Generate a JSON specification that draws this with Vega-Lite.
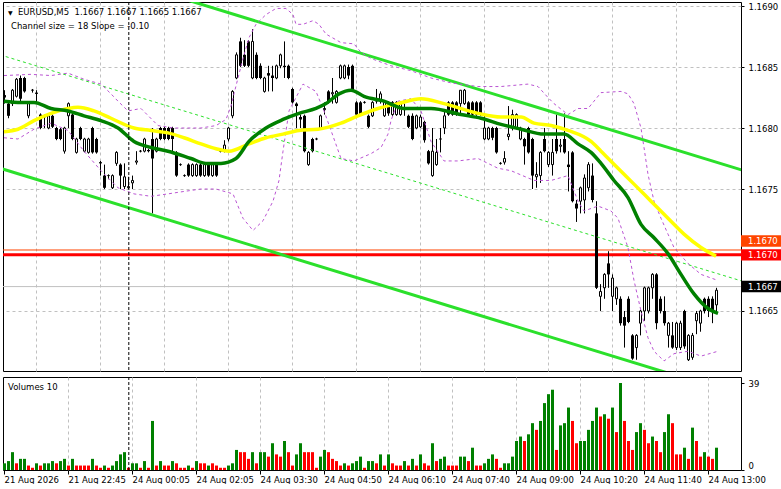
{
"$schema": "https://vega.github.io/schema/vega-lite/v6.json",
"background": "white",
"padding": {"left": -4, "top": 1, "right": 0, "bottom": 0},
"spacing": 4,
"config": {
  "font": "DejaVu Sans",
  "view": {"stroke": "#000000", "strokeWidth": 1},
  "axis": {"labelFont": "DejaVu Sans", "labelFontSize": 8.5, "labelColor": "#000000", "tickColor": "#000000", "gridColor": "#c0c0c0", "gridDash": [3, 3], "gridWidth": 1, "domain": false},
  "text": {"font": "DejaVu Sans", "fontSize": 8.5, "color": "#000000"}
},
"datasets": {
  "bars": [
{"i":0,"o":1.16827,"h":1.16831,"l":1.16820,"c":1.16825,"v":3,"t":"up"},
{"i":1,"o":1.16820,"h":1.16822,"l":1.16808,"c":1.16810,"v":4,"t":"up"},
{"i":2,"o":1.16820,"h":1.16832,"l":1.16818,"c":1.16831,"v":8,"t":"up"},
{"i":3,"o":1.16826,"h":1.16841,"l":1.16825,"c":1.16840,"v":3,"t":"down"},
{"i":4,"o":1.16841,"h":1.16843,"l":1.16822,"c":1.16824,"v":5,"t":"up"},
{"i":5,"o":1.16841,"h":1.16842,"l":1.16829,"c":1.16830,"v":5,"t":"up"},
{"i":6,"o":1.16810,"h":1.16821,"l":1.16808,"c":1.16820,"v":2,"t":"down"},
{"i":7,"o":1.16831,"h":1.16832,"l":1.16829,"c":1.16831,"v":1,"t":"down"},
{"i":8,"o":1.16829,"h":1.16831,"l":1.16820,"c":1.16828,"v":3,"t":"up"},
{"i":9,"o":1.16811,"h":1.16812,"l":1.16799,"c":1.16800,"v":2,"t":"down"},
{"i":10,"o":1.16809,"h":1.16811,"l":1.16800,"c":1.16810,"v":3,"t":"up"},
{"i":11,"o":1.16800,"h":1.16811,"l":1.16799,"c":1.16810,"v":3,"t":"up"},
{"i":12,"o":1.16810,"h":1.16811,"l":1.16800,"c":1.16801,"v":4,"t":"up"},
{"i":13,"o":1.16800,"h":1.16801,"l":1.16790,"c":1.16791,"v":3,"t":"down"},
{"i":14,"o":1.16799,"h":1.16800,"l":1.16790,"c":1.16791,"v":4,"t":"up"},
{"i":15,"o":1.16781,"h":1.16801,"l":1.16779,"c":1.16800,"v":5,"t":"up"},
{"i":16,"o":1.16810,"h":1.16821,"l":1.16800,"c":1.16820,"v":2,"t":"down"},
{"i":17,"o":1.16811,"h":1.16812,"l":1.16790,"c":1.16791,"v":5,"t":"up"},
{"i":18,"o":1.16780,"h":1.16792,"l":1.16779,"c":1.16791,"v":2,"t":"down"},
{"i":19,"o":1.16800,"h":1.16801,"l":1.16790,"c":1.16791,"v":2,"t":"down"},
{"i":20,"o":1.16781,"h":1.16792,"l":1.16780,"c":1.16791,"v":2,"t":"down"},
{"i":21,"o":1.16780,"h":1.16792,"l":1.16779,"c":1.16791,"v":2,"t":"down"},
{"i":22,"o":1.16800,"h":1.16801,"l":1.16779,"c":1.16780,"v":5,"t":"up"},
{"i":23,"o":1.16791,"h":1.16792,"l":1.16779,"c":1.16780,"v":2,"t":"down"},
{"i":24,"o":1.16772,"h":1.16773,"l":1.16761,"c":1.16771,"v":1,"t":"down"},
{"i":25,"o":1.16761,"h":1.16770,"l":1.16750,"c":1.16751,"v":2,"t":"up"},
{"i":26,"o":1.16761,"h":1.16762,"l":1.16758,"c":1.16761,"v":1,"t":"down"},
{"i":27,"o":1.16751,"h":1.16762,"l":1.16750,"c":1.16761,"v":2,"t":"up"},
{"i":28,"o":1.16771,"h":1.16781,"l":1.16769,"c":1.16780,"v":4,"t":"up"},
{"i":29,"o":1.16770,"h":1.16771,"l":1.16750,"c":1.16761,"v":7,"t":"up"},
{"i":30,"o":1.16752,"h":1.16771,"l":1.16750,"c":1.16760,"v":8,"t":"up"},
{"i":31,"o":1.16751,"h":1.16760,"l":1.16750,"c":1.16752,"v":1,"t":"down"},
{"i":32,"o":1.16755,"h":1.16761,"l":1.16750,"c":1.16757,"v":3,"t":"up"},
{"i":33,"o":1.16772,"h":1.16781,"l":1.16770,"c":1.16773,"v":3,"t":"up"},
{"i":34,"o":1.16781,"h":1.16782,"l":1.16780,"c":1.16781,"v":1,"t":"down"},
{"i":35,"o":1.16781,"h":1.16792,"l":1.16780,"c":1.16791,"v":4,"t":"up"},
{"i":36,"o":1.16782,"h":1.16783,"l":1.16780,"c":1.16781,"v":1,"t":"down"},
{"i":37,"o":1.16791,"h":1.16800,"l":1.16730,"c":1.16775,"v":22,"t":"up"},
{"i":38,"o":1.16781,"h":1.16792,"l":1.16780,"c":1.16791,"v":2,"t":"down"},
{"i":39,"o":1.16800,"h":1.16801,"l":1.16790,"c":1.16791,"v":4,"t":"up"},
{"i":40,"o":1.16800,"h":1.16801,"l":1.16790,"c":1.16791,"v":2,"t":"down"},
{"i":41,"o":1.16800,"h":1.16801,"l":1.16790,"c":1.16791,"v":2,"t":"down"},
{"i":42,"o":1.16800,"h":1.16801,"l":1.16780,"c":1.16791,"v":4,"t":"up"},
{"i":43,"o":1.16780,"h":1.16781,"l":1.16760,"c":1.16761,"v":3,"t":"down"},
{"i":44,"o":1.16770,"h":1.16771,"l":1.16769,"c":1.16770,"v":1,"t":"down"},
{"i":45,"o":1.16761,"h":1.16762,"l":1.16760,"c":1.16761,"v":1,"t":"down"},
{"i":46,"o":1.16770,"h":1.16771,"l":1.16760,"c":1.16761,"v":2,"t":"up"},
{"i":47,"o":1.16761,"h":1.16771,"l":1.16760,"c":1.16770,"v":1,"t":"down"},
{"i":48,"o":1.16761,"h":1.16771,"l":1.16760,"c":1.16770,"v":4,"t":"up"},
{"i":49,"o":1.16770,"h":1.16771,"l":1.16760,"c":1.16761,"v":3,"t":"down"},
{"i":50,"o":1.16761,"h":1.16771,"l":1.16760,"c":1.16770,"v":3,"t":"down"},
{"i":51,"o":1.16770,"h":1.16771,"l":1.16760,"c":1.16761,"v":2,"t":"up"},
{"i":52,"o":1.16761,"h":1.16771,"l":1.16760,"c":1.16770,"v":3,"t":"down"},
{"i":53,"o":1.16770,"h":1.16771,"l":1.16760,"c":1.16761,"v":2,"t":"down"},
{"i":54,"o":1.16781,"h":1.16782,"l":1.16780,"c":1.16781,"v":1,"t":"down"},
{"i":55,"o":1.16782,"h":1.16790,"l":1.16780,"c":1.16786,"v":1,"t":"down"},
{"i":56,"o":1.16791,"h":1.16801,"l":1.16789,"c":1.16800,"v":2,"t":"up"},
{"i":57,"o":1.16810,"h":1.16831,"l":1.16808,"c":1.16830,"v":3,"t":"up"},
{"i":58,"o":1.16841,"h":1.16862,"l":1.16840,"c":1.16860,"v":9,"t":"up"},
{"i":59,"o":1.16871,"h":1.16874,"l":1.16850,"c":1.16851,"v":8,"t":"down"},
{"i":60,"o":1.16860,"h":1.16872,"l":1.16850,"c":1.16851,"v":8,"t":"down"},
{"i":61,"o":1.16871,"h":1.16872,"l":1.16850,"c":1.16851,"v":5,"t":"down"},
{"i":62,"o":1.16841,"h":1.16881,"l":1.16840,"c":1.16871,"v":8,"t":"up"},
{"i":63,"o":1.16860,"h":1.16862,"l":1.16840,"c":1.16841,"v":3,"t":"down"},
{"i":64,"o":1.16851,"h":1.16853,"l":1.16840,"c":1.16841,"v":8,"t":"up"},
{"i":65,"o":1.16830,"h":1.16842,"l":1.16829,"c":1.16841,"v":8,"t":"up"},
{"i":66,"o":1.16845,"h":1.16851,"l":1.16830,"c":1.16843,"v":6,"t":"down"},
{"i":67,"o":1.16843,"h":1.16851,"l":1.16830,"c":1.16841,"v":12,"t":"up"},
{"i":68,"o":1.16841,"h":1.16852,"l":1.16840,"c":1.16851,"v":7,"t":"down"},
{"i":69,"o":1.16851,"h":1.16861,"l":1.16849,"c":1.16860,"v":6,"t":"down"},
{"i":70,"o":1.16851,"h":1.16871,"l":1.16841,"c":1.16850,"v":13,"t":"up"},
{"i":71,"o":1.16851,"h":1.16852,"l":1.16840,"c":1.16841,"v":8,"t":"down"},
{"i":72,"o":1.16832,"h":1.16833,"l":1.16820,"c":1.16821,"v":2,"t":"down"},
{"i":73,"o":1.16820,"h":1.16821,"l":1.16800,"c":1.16818,"v":7,"t":"up"},
{"i":74,"o":1.16809,"h":1.16811,"l":1.16800,"c":1.16807,"v":12,"t":"up"},
{"i":75,"o":1.16810,"h":1.16811,"l":1.16780,"c":1.16781,"v":8,"t":"down"},
{"i":76,"o":1.16770,"h":1.16781,"l":1.16769,"c":1.16780,"v":8,"t":"down"},
{"i":77,"o":1.16791,"h":1.16792,"l":1.16780,"c":1.16781,"v":8,"t":"down"},
{"i":78,"o":1.16791,"h":1.16792,"l":1.16790,"c":1.16791,"v":1,"t":"down"},
{"i":79,"o":1.16800,"h":1.16811,"l":1.16799,"c":1.16810,"v":6,"t":"up"},
{"i":80,"o":1.16815,"h":1.16821,"l":1.16811,"c":1.16816,"v":9,"t":"up"},
{"i":81,"o":1.16830,"h":1.16831,"l":1.16820,"c":1.16821,"v":8,"t":"down"},
{"i":82,"o":1.16828,"h":1.16841,"l":1.16820,"c":1.16829,"v":5,"t":"down"},
{"i":83,"o":1.16821,"h":1.16831,"l":1.16820,"c":1.16830,"v":4,"t":"down"},
{"i":84,"o":1.16841,"h":1.16852,"l":1.16840,"c":1.16851,"v":2,"t":"down"},
{"i":85,"o":1.16841,"h":1.16852,"l":1.16840,"c":1.16851,"v":3,"t":"up"},
{"i":86,"o":1.16850,"h":1.16852,"l":1.16840,"c":1.16843,"v":2,"t":"down"},
{"i":87,"o":1.16851,"h":1.16852,"l":1.16830,"c":1.16831,"v":3,"t":"up"},
{"i":88,"o":1.16821,"h":1.16822,"l":1.16810,"c":1.16811,"v":4,"t":"up"},
{"i":89,"o":1.16821,"h":1.16822,"l":1.16810,"c":1.16811,"v":6,"t":"up"},
{"i":90,"o":1.16821,"h":1.16822,"l":1.16820,"c":1.16821,"v":1,"t":"down"},
{"i":91,"o":1.16810,"h":1.16811,"l":1.16800,"c":1.16801,"v":4,"t":"up"},
{"i":92,"o":1.16810,"h":1.16822,"l":1.16809,"c":1.16821,"v":4,"t":"up"},
{"i":93,"o":1.16822,"h":1.16832,"l":1.16820,"c":1.16824,"v":3,"t":"down"},
{"i":94,"o":1.16822,"h":1.16830,"l":1.16820,"c":1.16828,"v":7,"t":"up"},
{"i":95,"o":1.16810,"h":1.16822,"l":1.16809,"c":1.16821,"v":2,"t":"down"},
{"i":96,"o":1.16821,"h":1.16822,"l":1.16810,"c":1.16812,"v":7,"t":"up"},
{"i":97,"o":1.16811,"h":1.16822,"l":1.16810,"c":1.16821,"v":3,"t":"down"},
{"i":98,"o":1.16811,"h":1.16822,"l":1.16810,"c":1.16821,"v":2,"t":"down"},
{"i":99,"o":1.16811,"h":1.16822,"l":1.16810,"c":1.16821,"v":2,"t":"down"},
{"i":100,"o":1.16815,"h":1.16820,"l":1.16810,"c":1.16816,"v":4,"t":"up"},
{"i":101,"o":1.16810,"h":1.16811,"l":1.16800,"c":1.16801,"v":2,"t":"down"},
{"i":102,"o":1.16810,"h":1.16812,"l":1.16790,"c":1.16791,"v":5,"t":"up"},
{"i":103,"o":1.16800,"h":1.16811,"l":1.16799,"c":1.16810,"v":2,"t":"down"},
{"i":104,"o":1.16801,"h":1.16811,"l":1.16800,"c":1.16809,"v":7,"t":"up"},
{"i":105,"o":1.16805,"h":1.16806,"l":1.16788,"c":1.16790,"v":3,"t":"down"},
{"i":106,"o":1.16781,"h":1.16782,"l":1.16770,"c":1.16771,"v":2,"t":"down"},
{"i":107,"o":1.16761,"h":1.16800,"l":1.16760,"c":1.16781,"v":12,"t":"up"},
{"i":108,"o":1.16770,"h":1.16791,"l":1.16769,"c":1.16780,"v":4,"t":"down"},
{"i":109,"o":1.16791,"h":1.16800,"l":1.16780,"c":1.16791,"v":5,"t":"up"},
{"i":110,"o":1.16800,"h":1.16815,"l":1.16795,"c":1.16810,"v":6,"t":"up"},
{"i":111,"o":1.16821,"h":1.16822,"l":1.16810,"c":1.16811,"v":2,"t":"down"},
{"i":112,"o":1.16821,"h":1.16822,"l":1.16810,"c":1.16811,"v":2,"t":"down"},
{"i":113,"o":1.16821,"h":1.16822,"l":1.16810,"c":1.16811,"v":2,"t":"down"},
{"i":114,"o":1.16820,"h":1.16831,"l":1.16810,"c":1.16831,"v":6,"t":"up"},
{"i":115,"o":1.16820,"h":1.16832,"l":1.16819,"c":1.16831,"v":6,"t":"up"},
{"i":116,"o":1.16821,"h":1.16822,"l":1.16810,"c":1.16811,"v":4,"t":"down"},
{"i":117,"o":1.16821,"h":1.16822,"l":1.16810,"c":1.16811,"v":10,"t":"up"},
{"i":118,"o":1.16821,"h":1.16822,"l":1.16810,"c":1.16811,"v":2,"t":"down"},
{"i":119,"o":1.16821,"h":1.16822,"l":1.16810,"c":1.16811,"v":2,"t":"down"},
{"i":120,"o":1.16791,"h":1.16810,"l":1.16790,"c":1.16800,"v":3,"t":"up"},
{"i":121,"o":1.16791,"h":1.16801,"l":1.16790,"c":1.16800,"v":5,"t":"up"},
{"i":122,"o":1.16800,"h":1.16801,"l":1.16790,"c":1.16792,"v":7,"t":"up"},
{"i":123,"o":1.16800,"h":1.16801,"l":1.16779,"c":1.16780,"v":5,"t":"down"},
{"i":124,"o":1.16771,"h":1.16772,"l":1.16770,"c":1.16771,"v":1,"t":"down"},
{"i":125,"o":1.16772,"h":1.16781,"l":1.16770,"c":1.16775,"v":3,"t":"up"},
{"i":126,"o":1.16793,"h":1.16818,"l":1.16790,"c":1.16795,"v":3,"t":"up"},
{"i":127,"o":1.16800,"h":1.16815,"l":1.16798,"c":1.16811,"v":6,"t":"up"},
{"i":128,"o":1.16800,"h":1.16812,"l":1.16799,"c":1.16811,"v":13,"t":"up"},
{"i":129,"o":1.16791,"h":1.16801,"l":1.16790,"c":1.16800,"v":15,"t":"up"},
{"i":130,"o":1.16791,"h":1.16792,"l":1.16770,"c":1.16785,"v":13,"t":"down"},
{"i":131,"o":1.16800,"h":1.16801,"l":1.16779,"c":1.16780,"v":16,"t":"up"},
{"i":132,"o":1.16791,"h":1.16792,"l":1.16750,"c":1.16761,"v":21,"t":"up"},
{"i":133,"o":1.16760,"h":1.16772,"l":1.16751,"c":1.16762,"v":18,"t":"down"},
{"i":134,"o":1.16761,"h":1.16781,"l":1.16755,"c":1.16780,"v":22,"t":"up"},
{"i":135,"o":1.16791,"h":1.16800,"l":1.16780,"c":1.16781,"v":30,"t":"up"},
{"i":136,"o":1.16770,"h":1.16781,"l":1.16768,"c":1.16780,"v":34,"t":"up"},
{"i":137,"o":1.16770,"h":1.16791,"l":1.16761,"c":1.16780,"v":36,"t":"up"},
{"i":138,"o":1.16791,"h":1.16811,"l":1.16779,"c":1.16781,"v":9,"t":"down"},
{"i":139,"o":1.16785,"h":1.16791,"l":1.16780,"c":1.16786,"v":20,"t":"up"},
{"i":140,"o":1.16791,"h":1.16812,"l":1.16779,"c":1.16780,"v":21,"t":"up"},
{"i":141,"o":1.16770,"h":1.16781,"l":1.16748,"c":1.16768,"v":28,"t":"up"},
{"i":142,"o":1.16780,"h":1.16781,"l":1.16739,"c":1.16740,"v":22,"t":"down"},
{"i":143,"o":1.16738,"h":1.16741,"l":1.16723,"c":1.16734,"v":12,"t":"down"},
{"i":144,"o":1.16740,"h":1.16752,"l":1.16730,"c":1.16751,"v":13,"t":"up"},
{"i":145,"o":1.16741,"h":1.16762,"l":1.16730,"c":1.16759,"v":13,"t":"up"},
{"i":146,"o":1.16751,"h":1.16772,"l":1.16748,"c":1.16770,"v":18,"t":"up"},
{"i":147,"o":1.16761,"h":1.16771,"l":1.16739,"c":1.16741,"v":22,"t":"up"},
{"i":148,"o":1.16730,"h":1.16740,"l":1.16668,"c":1.16669,"v":28,"t":"up"},
{"i":149,"o":1.16662,"h":1.16672,"l":1.16650,"c":1.16666,"v":24,"t":"down"},
{"i":150,"o":1.16669,"h":1.16681,"l":1.16660,"c":1.16680,"v":25,"t":"up"},
{"i":151,"o":1.16689,"h":1.16699,"l":1.16669,"c":1.16680,"v":23,"t":"down"},
{"i":152,"o":1.16662,"h":1.16680,"l":1.16650,"c":1.16677,"v":28,"t":"up"},
{"i":153,"o":1.16660,"h":1.16670,"l":1.16655,"c":1.16669,"v":17,"t":"down"},
{"i":154,"o":1.16660,"h":1.16662,"l":1.16638,"c":1.16640,"v":39,"t":"up"},
{"i":155,"o":1.16645,"h":1.16650,"l":1.16620,"c":1.16638,"v":22,"t":"down"},
{"i":156,"o":1.16660,"h":1.16662,"l":1.16640,"c":1.16641,"v":13,"t":"down"},
{"i":157,"o":1.16630,"h":1.16631,"l":1.16610,"c":1.16611,"v":9,"t":"down"},
{"i":158,"o":1.16620,"h":1.16631,"l":1.16610,"c":1.16630,"v":17,"t":"up"},
{"i":159,"o":1.16640,"h":1.16651,"l":1.16630,"c":1.16650,"v":21,"t":"up"},
{"i":160,"o":1.16650,"h":1.16670,"l":1.16642,"c":1.16669,"v":18,"t":"down"},
{"i":161,"o":1.16650,"h":1.16670,"l":1.16648,"c":1.16669,"v":12,"t":"down"},
{"i":162,"o":1.16669,"h":1.16681,"l":1.16660,"c":1.16680,"v":15,"t":"up"},
{"i":163,"o":1.16680,"h":1.16681,"l":1.16635,"c":1.16640,"v":13,"t":"down"},
{"i":164,"o":1.16660,"h":1.16662,"l":1.16648,"c":1.16650,"v":8,"t":"down"},
{"i":165,"o":1.16650,"h":1.16662,"l":1.16638,"c":1.16640,"v":17,"t":"up"},
{"i":166,"o":1.16630,"h":1.16641,"l":1.16620,"c":1.16640,"v":25,"t":"up"},
{"i":167,"o":1.16630,"h":1.16641,"l":1.16619,"c":1.16620,"v":21,"t":"down"},
{"i":168,"o":1.16620,"h":1.16641,"l":1.16618,"c":1.16640,"v":7,"t":"down"},
{"i":169,"o":1.16620,"h":1.16642,"l":1.16618,"c":1.16640,"v":7,"t":"down"},
{"i":170,"o":1.16650,"h":1.16651,"l":1.16619,"c":1.16621,"v":10,"t":"up"},
{"i":171,"o":1.16610,"h":1.16631,"l":1.16609,"c":1.16630,"v":5,"t":"down"},
{"i":172,"o":1.16612,"h":1.16632,"l":1.16610,"c":1.16630,"v":19,"t":"up"},
{"i":173,"o":1.16642,"h":1.16650,"l":1.16631,"c":1.16648,"v":13,"t":"down"},
{"i":174,"o":1.16640,"h":1.16651,"l":1.16633,"c":1.16650,"v":6,"t":"down"},
{"i":175,"o":1.16660,"h":1.16661,"l":1.16648,"c":1.16650,"v":8,"t":"up"},
{"i":176,"o":1.16660,"h":1.16662,"l":1.16645,"c":1.16650,"v":6,"t":"down"},
{"i":177,"o":1.16660,"h":1.16662,"l":1.16640,"c":1.16650,"v":5,"t":"down"},
{"i":178,"o":1.16655,"h":1.16669,"l":1.16648,"c":1.16667,"v":10,"t":"up"}
  ],
  "ma": [
{"s":"g","i":0,"p":1.16822},{"s":"g","i":4.25,"p":1.16821},{"s":"g","i":7.5,"p":1.16821},{"s":"g","i":11.75,"p":1.16816},{"s":"g","i":16,"p":1.16814},{"s":"g","i":20,"p":1.16810},{"s":"g","i":24.25,"p":1.16806},{"s":"g","i":28.5,"p":1.16800},{"s":"g","i":32.5,"p":1.16789},{"s":"g","i":36.75,"p":1.16784},{"s":"g","i":41,"p":1.16781},{"s":"g","i":46.75,"p":1.16775},{"s":"g","i":50.5,"p":1.16771},{"s":"g","i":54.25,"p":1.16771},{"s":"g","i":58,"p":1.16775},{"s":"g","i":61.25,"p":1.16789},{"s":"g","i":65.5,"p":1.16800},{"s":"g","i":69.75,"p":1.16807},{"s":"g","i":73.75,"p":1.16812},{"s":"g","i":78,"p":1.16816},{"s":"g","i":80.5,"p":1.16820},{"s":"g","i":83.75,"p":1.16828},{"s":"g","i":86.75,"p":1.16831},{"s":"g","i":90,"p":1.16826},{"s":"g","i":95,"p":1.16822},{"s":"g","i":100,"p":1.16816},{"s":"g","i":106.75,"p":1.16816},{"s":"g","i":114.25,"p":1.16811},{"s":"g","i":119.25,"p":1.16808},{"s":"g","i":124.25,"p":1.16803},{"s":"g","i":129.25,"p":1.16799},{"s":"g","i":135,"p":1.16795},{"s":"g","i":140,"p":1.16795},{"s":"g","i":143.5,"p":1.16787},{"s":"g","i":146.75,"p":1.16780},{"s":"g","i":149.25,"p":1.16771},{"s":"g","i":152.5,"p":1.16757},{"s":"g","i":156,"p":1.16743},{"s":"g","i":159.25,"p":1.16721},{"s":"g","i":162.5,"p":1.16710},{"s":"g","i":166,"p":1.16697},{"s":"g","i":169.25,"p":1.16680},{"s":"g","i":172.5,"p":1.16664},{"s":"g","i":176,"p":1.16652},{"s":"g","i":178.5,"p":1.16648},
{"s":"y","i":0,"p":1.16797},{"s":"y","i":3.5,"p":1.16799},{"s":"y","i":7.5,"p":1.16806},{"s":"y","i":11.75,"p":1.16812},{"s":"y","i":16,"p":1.16816},{"s":"y","i":18.5,"p":1.16817},{"s":"y","i":22.5,"p":1.16814},{"s":"y","i":26.75,"p":1.16808},{"s":"y","i":32.5,"p":1.16800},{"s":"y","i":36.75,"p":1.16798},{"s":"y","i":41,"p":1.16796},{"s":"y","i":45,"p":1.16792},{"s":"y","i":49.25,"p":1.16787},{"s":"y","i":53,"p":1.16783},{"s":"y","i":56.25,"p":1.16781},{"s":"y","i":61.25,"p":1.16787},{"s":"y","i":65.5,"p":1.16792},{"s":"y","i":69.75,"p":1.16795},{"s":"y","i":73.75,"p":1.16798},{"s":"y","i":78.5,"p":1.16799},{"s":"y","i":84.25,"p":1.16804},{"s":"y","i":88.5,"p":1.16810},{"s":"y","i":93.5,"p":1.16816},{"s":"y","i":98.5,"p":1.16820},{"s":"y","i":104.25,"p":1.16824},{"s":"y","i":110,"p":1.16820},{"s":"y","i":118.5,"p":1.16812},{"s":"y","i":124.25,"p":1.16809},{"s":"y","i":129.25,"p":1.16809},{"s":"y","i":132.5,"p":1.16804},{"s":"y","i":136.75,"p":1.16802},{"s":"y","i":141,"p":1.16798},{"s":"y","i":146.75,"p":1.16789},{"s":"y","i":149.25,"p":1.16781},{"s":"y","i":153.5,"p":1.16767},{"s":"y","i":157.5,"p":1.16754},{"s":"y","i":161.75,"p":1.16740},{"s":"y","i":166,"p":1.16726},{"s":"y","i":170,"p":1.16713},{"s":"y","i":174.25,"p":1.16702},{"s":"y","i":178,"p":1.16695}
  ],
  "band": [
{"s":"U","i":0,"p":1.16843},{"s":"U","i":6.75,"p":1.16844},{"s":"U","i":11.75,"p":1.16843},{"s":"U","i":16,"p":1.16845},{"s":"U","i":20,"p":1.16840},{"s":"U","i":24.25,"p":1.16836},{"s":"U","i":26.75,"p":1.16828},{"s":"U","i":28.5,"p":1.16822},{"s":"U","i":31,"p":1.16814},{"s":"U","i":34.25,"p":1.16816},{"s":"U","i":38.5,"p":1.16802},{"s":"U","i":42.5,"p":1.16800},{"s":"U","i":49.25,"p":1.16800},{"s":"U","i":53,"p":1.16802},{"s":"U","i":55.5,"p":1.16807},{"s":"U","i":56.75,"p":1.16818},{"s":"U","i":57.5,"p":1.16828},{"s":"U","i":58.5,"p":1.16841},{"s":"U","i":59.75,"p":1.16857},{"s":"U","i":61.25,"p":1.16874},{"s":"U","i":63,"p":1.16885},{"s":"U","i":65.5,"p":1.16893},{"s":"U","i":68,"p":1.16898},{"s":"U","i":70.5,"p":1.16898},{"s":"U","i":72.25,"p":1.16893},{"s":"U","i":73,"p":1.16885},{"s":"U","i":74.75,"p":1.16885},{"s":"U","i":77.25,"p":1.16888},{"s":"U","i":78.75,"p":1.16885},{"s":"U","i":80.5,"p":1.16877},{"s":"U","i":84.25,"p":1.16870},{"s":"U","i":87.5,"p":1.16869},{"s":"U","i":89.25,"p":1.16862},{"s":"U","i":91.75,"p":1.16857},{"s":"U","i":96.75,"p":1.16851},{"s":"U","i":101.75,"p":1.16847},{"s":"U","i":106.75,"p":1.16841},{"s":"U","i":111.75,"p":1.16837},{"s":"U","i":118.5,"p":1.16834},{"s":"U","i":124.25,"p":1.16834},{"s":"U","i":131,"p":1.16836},{"s":"U","i":133.5,"p":1.16834},{"s":"U","i":136,"p":1.16825},{"s":"U","i":137.5,"p":1.16820},{"s":"U","i":141,"p":1.16811},{"s":"U","i":143.5,"p":1.16816},{"s":"U","i":146,"p":1.16816},{"s":"U","i":147.5,"p":1.16822},{"s":"U","i":149.25,"p":1.16829},{"s":"U","i":154.25,"p":1.16830},{"s":"U","i":156,"p":1.16828},{"s":"U","i":157.5,"p":1.16820},{"s":"U","i":159.25,"p":1.16800},{"s":"U","i":160,"p":1.16784},{"s":"U","i":161,"p":1.16762},{"s":"U","i":162.5,"p":1.16740},{"s":"U","i":164.25,"p":1.16726},{"s":"U","i":166,"p":1.16713},{"s":"U","i":167.5,"p":1.16702},{"s":"U","i":171,"p":1.16689},{"s":"U","i":174.25,"p":1.16680},{"s":"U","i":178.5,"p":1.16675},
{"s":"L","i":0,"p":1.16792},{"s":"L","i":3.5,"p":1.16791},{"s":"L","i":7.5,"p":1.16799},{"s":"L","i":11.75,"p":1.16804},{"s":"L","i":16,"p":1.16798},{"s":"L","i":20,"p":1.16781},{"s":"L","i":24.25,"p":1.16765},{"s":"L","i":28.5,"p":1.16751},{"s":"L","i":32.5,"p":1.16746},{"s":"L","i":36.75,"p":1.16744},{"s":"L","i":41,"p":1.16746},{"s":"L","i":45,"p":1.16748},{"s":"L","i":49.25,"p":1.16750},{"s":"L","i":53,"p":1.16750},{"s":"L","i":57.25,"p":1.16746},{"s":"L","i":59.75,"p":1.16726},{"s":"L","i":62.25,"p":1.16716},{"s":"L","i":64.75,"p":1.16724},{"s":"L","i":67.25,"p":1.16740},{"s":"L","i":68.75,"p":1.16757},{"s":"L","i":69.75,"p":1.16781},{"s":"L","i":71.25,"p":1.16814},{"s":"L","i":74.75,"p":1.16836},{"s":"L","i":78,"p":1.16830},{"s":"L","i":80,"p":1.16814},{"s":"L","i":81.75,"p":1.16798},{"s":"L","i":84.25,"p":1.16775},{"s":"L","i":87.5,"p":1.16773},{"s":"L","i":91.75,"p":1.16779},{"s":"L","i":94.25,"p":1.16784},{"s":"L","i":96,"p":1.16795},{"s":"L","i":96.75,"p":1.16806},{"s":"L","i":98.5,"p":1.16822},{"s":"L","i":101.75,"p":1.16824},{"s":"L","i":104.25,"p":1.16814},{"s":"L","i":106.75,"p":1.16789},{"s":"L","i":110,"p":1.16773},{"s":"L","i":113.5,"p":1.16773},{"s":"L","i":118.5,"p":1.16775},{"s":"L","i":123.5,"p":1.16767},{"s":"L","i":126.75,"p":1.16765},{"s":"L","i":132.5,"p":1.16757},{"s":"L","i":136.75,"p":1.16757},{"s":"L","i":141,"p":1.16761},{"s":"L","i":143.5,"p":1.16740},{"s":"L","i":145,"p":1.16732},{"s":"L","i":148.5,"p":1.16736},{"s":"L","i":151.75,"p":1.16732},{"s":"L","i":153.5,"p":1.16726},{"s":"L","i":156,"p":1.16702},{"s":"L","i":157.5,"p":1.16675},{"s":"L","i":159.25,"p":1.16650},{"s":"L","i":161,"p":1.16628},{"s":"L","i":162.5,"p":1.16617},{"s":"L","i":165,"p":1.16609},{"s":"L","i":167.5,"p":1.16615},{"s":"L","i":171,"p":1.16617},{"s":"L","i":174.25,"p":1.16613},{"s":"L","i":178.5,"p":1.16617}
  ],
  "chan": [
{"s":"up","i":-1,"p":1.16952},{"s":"up","i":185,"p":1.16765},
{"s":"mid","i":-1,"p":1.16860},{"s":"mid","i":185,"p":1.16674},
{"s":"lo","i":-1,"p":1.16767},{"s":"lo","i":185,"p":1.16580}
  ],
  "levels": [
{"k":"a","p":1.16700,"txt":"1.1670"},
{"k":"b","p":1.16696,"txt":"1.1670"},
{"k":"bid","p":1.16670,"txt":"1.1667"}
  ],
  "sep": [{"i":31.2}]
},
"vconcat": [
{
  "width": 738,
  "height": 369,
  "layer": [
    {
      "data": {"name": "levels"},
      "transform": [{"filter": "datum.k == 'bid'"}],
      "mark": {"type": "rule", "color": "#c0c0c0", "strokeWidth": 1},
      "encoding": {
        "y": {"field": "p", "type": "quantitative", "title": null,
              "scale": {"domain": [1.166008, 1.169033], "nice": false, "zero": false},
              "axis": {"orient": "right", "values": [1.1665, 1.1675, 1.168, 1.1685, 1.169], "format": ".4f", "grid": true, "tickSize": 3, "labelPadding": 4, "labelFlush": false, "labelOverlap": false, "domain": false, "zindex": 0}}
      }
    },
    {
      "data": {"name": "levels"},
      "transform": [{"filter": "datum.k == 'a'"}],
      "mark": {"type": "rule", "color": "#ff4500", "strokeWidth": 1},
      "encoding": {"y": {"field": "p", "type": "quantitative", "title": null, "scale": {"domain": [1.166008, 1.169033], "nice": false, "zero": false}}}
    },
    {
      "data": {"name": "levels"},
      "transform": [{"filter": "datum.k == 'b'"}],
      "mark": {"type": "rule", "color": "#ff0000", "strokeWidth": 3},
      "encoding": {"y": {"field": "p", "type": "quantitative", "title": null, "scale": {"domain": [1.166008, 1.169033], "nice": false, "zero": false}}}
    },
    {
      "data": {"name": "bars"},
      "mark": {"type": "rule", "color": "#000000", "strokeWidth": 1, "xOffset": 0.5},
      "encoding": {
        "x": {"field": "i", "type": "quantitative", "title": null,
              "scale": {"domain": [-0.25, 184.25], "nice": false, "zero": false, "padding": 0},
              "axis": {"orient": "bottom", "values": [8,16,24,32,40,48,56,64,72,80,88,96,104,112,120,128,136,144,152,160,168,176], "grid": true, "labels": false, "ticks": false, "domain": false, "zindex": 0}},
        "y": {"field": "l", "type": "quantitative", "title": null, "scale": {"domain": [1.166008, 1.169033], "nice": false, "zero": false}},
        "y2": {"field": "h"}
      }
    },
    {
      "data": {"name": "bars"},
      "transform": [{"filter": "datum.c < datum.o"}],
      "mark": {"type": "bar", "width": 3, "color": "#000000", "xOffset": 0.5},
      "encoding": {
        "x": {"field": "i", "type": "quantitative", "title": null, "scale": {"domain": [-0.25, 184.25], "nice": false, "zero": false, "padding": 0}},
        "y": {"field": "o", "type": "quantitative", "title": null, "scale": {"domain": [1.166008, 1.169033], "nice": false, "zero": false}},
        "y2": {"field": "c"}
      }
    },
    {
      "data": {"name": "bars"},
      "transform": [{"filter": "datum.c >= datum.o"}],
      "mark": {"type": "bar", "width": 2, "fill": "#ffffff", "stroke": "#000000", "strokeWidth": 1, "xOffset": 0.5},
      "encoding": {
        "x": {"field": "i", "type": "quantitative", "title": null, "scale": {"domain": [-0.25, 184.25], "nice": false, "zero": false, "padding": 0}},
        "y": {"field": "o", "type": "quantitative", "title": null, "scale": {"domain": [1.166008, 1.169033], "nice": false, "zero": false}},
        "y2": {"field": "c"}
      }
    },
    {
      "data": {"name": "chan"},
      "transform": [{"filter": "datum.s != 'mid'"}],
      "mark": {"type": "line", "color": "#2be02b", "strokeWidth": 3, "clip": true},
      "encoding": {
        "x": {"field": "i", "type": "quantitative", "title": null, "scale": {"domain": [-0.25, 184.25], "nice": false, "zero": false, "padding": 0}},
        "y": {"field": "p", "type": "quantitative", "title": null, "scale": {"domain": [1.166008, 1.169033], "nice": false, "zero": false}},
        "detail": {"field": "s"}
      }
    },
    {
      "data": {"name": "chan"},
      "transform": [{"filter": "datum.s == 'mid'"}],
      "mark": {"type": "line", "color": "#2be02b", "strokeWidth": 1, "strokeDash": [3, 3], "clip": true},
      "encoding": {
        "x": {"field": "i", "type": "quantitative", "title": null, "scale": {"domain": [-0.25, 184.25], "nice": false, "zero": false, "padding": 0}},
        "y": {"field": "p", "type": "quantitative", "title": null, "scale": {"domain": [1.166008, 1.169033], "nice": false, "zero": false}}
      }
    },
    {
      "data": {"name": "band"},
      "mark": {"type": "line", "color": "#ba55d3", "strokeWidth": 1, "strokeDash": [3, 3], "clip": true},
      "encoding": {
        "x": {"field": "i", "type": "quantitative", "title": null, "scale": {"domain": [-0.25, 184.25], "nice": false, "zero": false, "padding": 0}},
        "y": {"field": "p", "type": "quantitative", "title": null, "scale": {"domain": [1.166008, 1.169033], "nice": false, "zero": false}},
        "detail": {"field": "s"}
      }
    },
    {
      "data": {"name": "ma"},
      "transform": [{"filter": "datum.s == 'y'"}],
      "mark": {"type": "line", "color": "#ffff00", "strokeWidth": 3.5, "interpolate": "monotone"},
      "encoding": {
        "x": {"field": "i", "type": "quantitative", "title": null, "scale": {"domain": [-0.25, 184.25], "nice": false, "zero": false, "padding": 0}},
        "y": {"field": "p", "type": "quantitative", "title": null, "scale": {"domain": [1.166008, 1.169033], "nice": false, "zero": false}}
      }
    },
    {
      "data": {"name": "ma"},
      "transform": [{"filter": "datum.s == 'g'"}],
      "mark": {"type": "line", "color": "#008000", "strokeWidth": 3.5, "interpolate": "monotone"},
      "encoding": {
        "x": {"field": "i", "type": "quantitative", "title": null, "scale": {"domain": [-0.25, 184.25], "nice": false, "zero": false, "padding": 0}},
        "y": {"field": "p", "type": "quantitative", "title": null, "scale": {"domain": [1.166008, 1.169033], "nice": false, "zero": false}}
      }
    },
    {
      "data": {"name": "sep"},
      "mark": {"type": "rule", "color": "#000000", "strokeWidth": 1, "strokeDash": [3, 2]},
      "encoding": {
        "x": {"field": "i", "type": "quantitative", "title": null, "scale": {"domain": [-0.25, 184.25], "nice": false, "zero": false, "padding": 0}}
      }
    },
    {
      "data": {"values": [{"txt": "▼"}]},
      "mark": {"type": "text", "align": "left", "baseline": "alphabetic", "dx": 5, "dy": 13, "fontSize": 6, "color": "#000000"},
      "encoding": {
        "x": {"datum": -0.25, "type": "quantitative"},
        "y": {"datum": 1.169033, "type": "quantitative"},
        "text": {"field": "txt"}
      }
    },
    {
      "data": {"values": [{"txt": "EURUSD,M5\u00a0 1.1667 1.1667 1.1665 1.1667"}]},
      "mark": {"type": "text", "align": "left", "baseline": "alphabetic", "dx": 15, "dy": 13, "fontSize": 8.5, "color": "#000000"},
      "encoding": {
        "x": {"datum": -0.25, "type": "quantitative"},
        "y": {"datum": 1.169033, "type": "quantitative"},
        "text": {"field": "txt"}
      }
    },
    {
      "data": {"values": [{"txt": "Channel size = 18 Slope = -0.10"}]},
      "mark": {"type": "text", "align": "left", "baseline": "alphabetic", "dx": 8, "dy": 27, "fontSize": 8.5, "color": "#000000"},
      "encoding": {
        "x": {"datum": -0.25, "type": "quantitative"},
        "y": {"datum": 1.169033, "type": "quantitative"},
        "text": {"field": "txt"}
      }
    },
    {
      "data": {"name": "levels"},
      "transform": [{"filter": "datum.k == 'a'"}],
      "mark": {"type": "point", "shape": "M0,-0.28L2,-0.28L2,0.28L0,0.28Z", "size": 1681, "filled": true, "opacity": 1, "color": "#ff4500", "strokeWidth": 0, "yOffset": -9},
      "encoding": {
        "x": {"datum": 184.25, "type": "quantitative"},
        "y": {"field": "p", "type": "quantitative", "title": null, "scale": {"domain": [1.166008, 1.169033], "nice": false, "zero": false}}
      }
    },
    {
      "data": {"name": "levels"},
      "transform": [{"filter": "datum.k == 'a'"}],
      "mark": {"type": "text", "align": "left", "baseline": "middle", "dx": 7, "dy": -9, "fontSize": 8.5, "color": "#ffffff"},
      "encoding": {
        "x": {"datum": 184.25, "type": "quantitative"},
        "y": {"field": "p", "type": "quantitative", "title": null, "scale": {"domain": [1.166008, 1.169033], "nice": false, "zero": false}},
        "text": {"field": "txt"}
      }
    },
    {
      "data": {"name": "levels"},
      "transform": [{"filter": "datum.k != 'a'"}],
      "mark": {"type": "point", "shape": "M0,-0.28L2,-0.28L2,0.28L0,0.28Z", "size": 1681, "filled": true, "opacity": 1, "strokeWidth": 0},
      "encoding": {
        "x": {"datum": 184.25, "type": "quantitative"},
        "y": {"field": "p", "type": "quantitative", "title": null, "scale": {"domain": [1.166008, 1.169033], "nice": false, "zero": false}},
        "color": {"condition": {"test": "datum.k == 'b'", "value": "#ff0000"}, "value": "#000000"}
      }
    },
    {
      "data": {"name": "levels"},
      "transform": [{"filter": "datum.k != 'a'"}],
      "mark": {"type": "text", "align": "left", "baseline": "middle", "dx": 7, "dy": 0.5, "fontSize": 8.5, "color": "#ffffff"},
      "encoding": {
        "x": {"datum": 184.25, "type": "quantitative"},
        "y": {"field": "p", "type": "quantitative", "title": null, "scale": {"domain": [1.166008, 1.169033], "nice": false, "zero": false}},
        "text": {"field": "txt"}
      }
    }
  ]
},
{
  "width": 738,
  "height": 93,
  "layer": [
    {
      "data": {"name": "bars"},
      "mark": {"type": "bar", "width": 3, "xOffset": 0.5},
      "encoding": {
        "x": {"field": "i", "type": "quantitative", "title": null,
              "scale": {"domain": [-0.25, 184.25], "nice": false, "zero": false, "padding": 0},
              "axis": {"orient": "bottom", "values": [0,8,16,24,32,40,48,56,64,72,80,88,96,104,112,120,128,136,144,152,160,168,176],
                       "grid": true, "gridOpacity": {"condition": {"test": "datum.value == 0", "value": 0}, "value": 1},
                       "ticks": true, "tickSize": 4, "tickOpacity": {"condition": {"test": "datum.value % 16 != 0", "value": 0}, "value": 1},
                       "labelExpr": "datum.value % 16 == 0 ? ['21 Aug 2026','21 Aug 22:45','24 Aug 00:05','24 Aug 02:05','24 Aug 03:30','24 Aug 04:50','24 Aug 06:10','24 Aug 07:40','24 Aug 09:00','24 Aug 10:20','24 Aug 11:40','24 Aug 13:00'][datum.value / 16] : ''",
                       "labelAlign": "left", "labelBaseline": "top", "labelPadding": 1, "labelOverlap": false, "labelFlush": false, "labelBound": false, "domain": false, "zindex": 0}},
        "y": {"field": "v", "type": "quantitative", "title": null,
              "scale": {"domain": [0, 41.7], "nice": false, "zero": true},
              "axis": {"orient": "right", "values": [0, 39], "grid": false, "tickSize": 3, "labelPadding": 4, "labelFlush": false, "labelOverlap": false, "domain": false,
                       "labelOffset": {"condition": {"test": "datum.value == 0", "value": -5}, "value": 0}}},
        "color": {"field": "t", "type": "nominal", "scale": {"domain": ["up", "down"], "range": ["#008000", "#ff0000"]}, "legend": null}
      }
    },
    {
      "data": {"name": "sep"},
      "mark": {"type": "rule", "color": "#000000", "strokeWidth": 1, "strokeDash": [3, 2]},
      "encoding": {
        "x": {"field": "i", "type": "quantitative", "title": null, "scale": {"domain": [-0.25, 184.25], "nice": false, "zero": false, "padding": 0}}
      }
    },
    {
      "data": {"values": [{"txt": "Volumes 10"}]},
      "mark": {"type": "text", "align": "left", "baseline": "alphabetic", "dx": 5, "dy": 13, "fontSize": 8.5, "color": "#000000"},
      "encoding": {
        "x": {"datum": -0.25, "type": "quantitative"},
        "y": {"datum": 41.7, "type": "quantitative"},
        "text": {"field": "txt"}
      }
    }
  ]
}
]
}
